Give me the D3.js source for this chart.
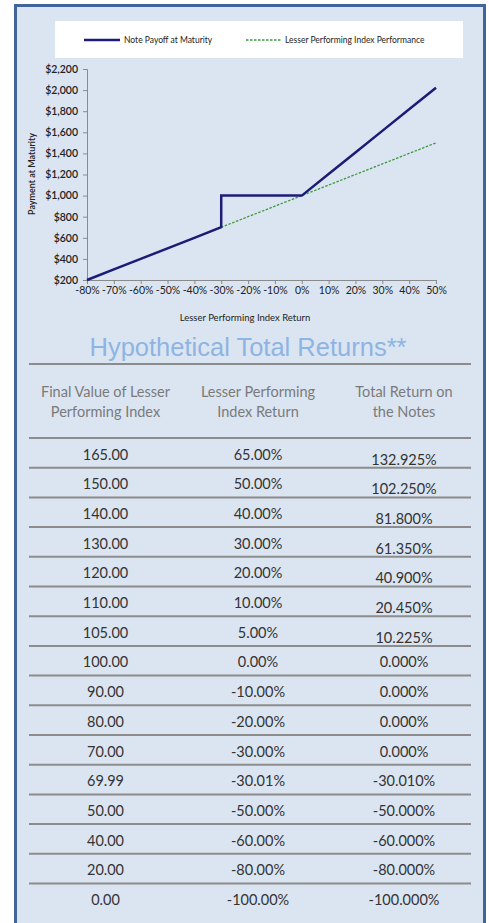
<!DOCTYPE html>
<html>
<head>
<meta charset="utf-8">
<script src="https://cdn.jsdelivr.net/npm/d3@7"></script>
<style>
  html, body { margin: 0; padding: 0; background: #fff; }
  svg { display: block; }
</style>
</head>
<body>
<svg id="chart" width="489" height="923"></svg>
<script>
// Chart series (index return in %, payment in $)
const returnTicks = [-80, -70, -60, -50, -40, -30, -20, -10, 0, 10, 20, 30, 40, 50];
const payTicks = [200, 400, 600, 800, 1000, 1200, 1400, 1600, 1800, 2000, 2200];

const noteReturn = [-80, -70, -60, -50, -40, -30.01, -30, -20, -10, 0, 10, 20, 30, 40, 50];
const notePayoff = [200, 300, 400, 500, 600, 699.9, 1000, 1000, 1000, 1000, 1204.5, 1409, 1613.5, 1818, 2022.5];

const indexReturn = [-80, -70, -60, -50, -40, -30, -20, -10, 0, 10, 20, 30, 40, 50];
const indexPayoff = [200, 300, 400, 500, 600, 700, 800, 900, 1000, 1100, 1200, 1300, 1400, 1500];

// Table
const headers = [
  ['Final Value of Lesser', 'Performing Index'],
  ['Lesser Performing', 'Index Return'],
  ['Total Return on', 'the Notes']
];
const finalValues = ['165.00', '150.00', '140.00', '130.00', '120.00', '110.00', '105.00', '100.00',
  '90.00', '80.00', '70.00', '69.99', '50.00', '40.00', '20.00', '0.00'];
const indexReturns = ['65.00%', '50.00%', '40.00%', '30.00%', '20.00%', '10.00%', '5.00%', '0.00%',
  '-10.00%', '-20.00%', '-30.00%', '-30.01%', '-50.00%', '-60.00%', '-80.00%', '-100.00%'];
const totalReturns = ['132.925%', '102.250%', '81.800%', '61.350%', '40.900%', '20.450%', '10.225%', '0.000%',
  '0.000%', '0.000%', '0.000%', '-30.010%', '-50.000%', '-60.000%', '-80.000%', '-100.000%'];

const svg = d3.select('#chart');
const font = 'Lato, "Open Sans", sans-serif';

// Frame
svg.append('rect')
  .attr('x', 15.5).attr('y', 5.5)
  .attr('width', 469).attr('height', 930)
  .attr('fill', '#dbe5f1')
  .attr('stroke', '#41659a')
  .attr('stroke-width', 3);

// Legend box
const legend = svg.append('g');
legend.append('rect')
  .attr('x', 55).attr('y', 21).attr('width', 408).attr('height', 37)
  .attr('fill', '#fff');
legend.append('line')
  .attr('x1', 84).attr('x2', 120).attr('y1', 40).attr('y2', 40)
  .attr('stroke', '#1c1c78').attr('stroke-width', 2.5);
legend.append('text')
  .attr('x', 124).attr('y', 43)
  .attr('font-family', font).attr('font-size', 8.5).attr('fill', '#222')
  .text('Note Payoff at Maturity');
legend.append('line')
  .attr('x1', 246).attr('x2', 281).attr('y1', 40).attr('y2', 40)
  .attr('stroke', '#3a9a3a').attr('stroke-width', 1.3).attr('stroke-dasharray', '2.5,1.5');
legend.append('text')
  .attr('x', 285).attr('y', 43)
  .attr('font-family', font).attr('font-size', 8.5).attr('fill', '#222')
  .text('Lesser Performing Index Performance');

// Scales
const x = d3.scaleLinear().domain([-80, 50]).range([87, 436]);
const y = d3.scaleLinear().domain([200, 2200]).range([280, 69]);

// Axes
const yAxis = svg.append('g')
  .attr('transform', 'translate(87,0)')
  .call(d3.axisLeft(y).tickValues(payTicks).tickSize(4).tickPadding(5)
    .tickFormat(d => '$' + d3.format(',')(d)));
const xAxis = svg.append('g')
  .attr('transform', 'translate(0,280)')
  .call(d3.axisBottom(x).tickValues(returnTicks).tickSize(4).tickPadding(3)
    .tickFormat(d => d + '%'));

[yAxis, xAxis].forEach(g => {
  g.select('.domain').attr('stroke', '#8a8a8a');
  g.selectAll('.tick line').attr('stroke', '#8a8a8a');
  g.selectAll('.tick text').attr('fill', '#222').attr('font-family', font);
});
yAxis.selectAll('.tick text').attr('font-size', 10.5).attr('font-weight', 600);
xAxis.selectAll('.tick text').attr('font-size', 10.5);

// Axis titles
svg.append('text')
  .attr('transform', 'translate(35,174) rotate(-90)')
  .attr('text-anchor', 'middle')
  .attr('font-family', font).attr('font-size', 9).attr('font-weight', 600).attr('fill', '#222')
  .text('Payment at Maturity');
svg.append('text')
  .attr('x', 245).attr('y', 321)
  .attr('text-anchor', 'middle')
  .attr('font-family', font).attr('font-size', 9.5).attr('fill', '#222')
  .text('Lesser Performing Index Return');

// Lines
const line = d3.line().x(d => x(d[0])).y(d => y(d[1]));
svg.append('path')
  .datum(indexReturn.map((r, i) => [r, indexPayoff[i]]))
  .attr('d', line)
  .attr('fill', 'none')
  .attr('stroke', '#3a9a3a')
  .attr('stroke-width', 1.3)
  .attr('stroke-dasharray', '2.5,1.5');
svg.append('path')
  .datum(noteReturn.map((r, i) => [r, notePayoff[i]]))
  .attr('d', line)
  .attr('fill', 'none')
  .attr('stroke', '#1c1c78')
  .attr('stroke-width', 2.5);

// Table title
svg.append('text')
  .attr('x', 248).attr('y', 356)
  .attr('text-anchor', 'middle')
  .attr('font-family', '"Liberation Sans", Arial, sans-serif')
  .attr('font-size', 25.5)
  .attr('fill', '#8eb4e3')
  .text('Hypothetical Total Returns**');

const colX = [105.5, 258, 404];
const rowTop = 438;
const rowH = 29.7;

// Rules
const rules = d3.range(finalValues.length).map(i => rowTop + i * rowH);
svg.selectAll('.rule')
  .data([364].concat(rules))
  .join('line')
  .attr('class', 'rule')
  .attr('x1', 29).attr('x2', 471)
  .attr('y1', d => d).attr('y2', d => d)
  .attr('stroke', '#8c8c8c')
  .attr('stroke-width', 2);

// Headers
headers.forEach((h, c) => {
  h.forEach((t, k) => {
    svg.append('text')
      .attr('x', colX[c]).attr('y', 397 + k * 20)
      .attr('text-anchor', 'middle')
      .attr('font-family', font).attr('font-size', 14.5).attr('fill', '#7a7a7a')
      .text(t);
  });
});

// Body
const rows = finalValues.map((v, i) => [v, indexReturns[i], totalReturns[i]]);
rows.forEach((r, i) => {
  const base = rowTop + i * rowH + 21.5;
  r.forEach((t, c) => {
    const lift = (c === 2 && parseFloat(t) > 0) ? 5 : 0;
    svg.append('text')
      .attr('x', colX[c]).attr('y', base + lift)
      .attr('text-anchor', 'middle')
      .attr('font-family', font).attr('font-size', 14.5).attr('fill', '#333')
      .text(t);
  });
});
</script>
</body>
</html>
